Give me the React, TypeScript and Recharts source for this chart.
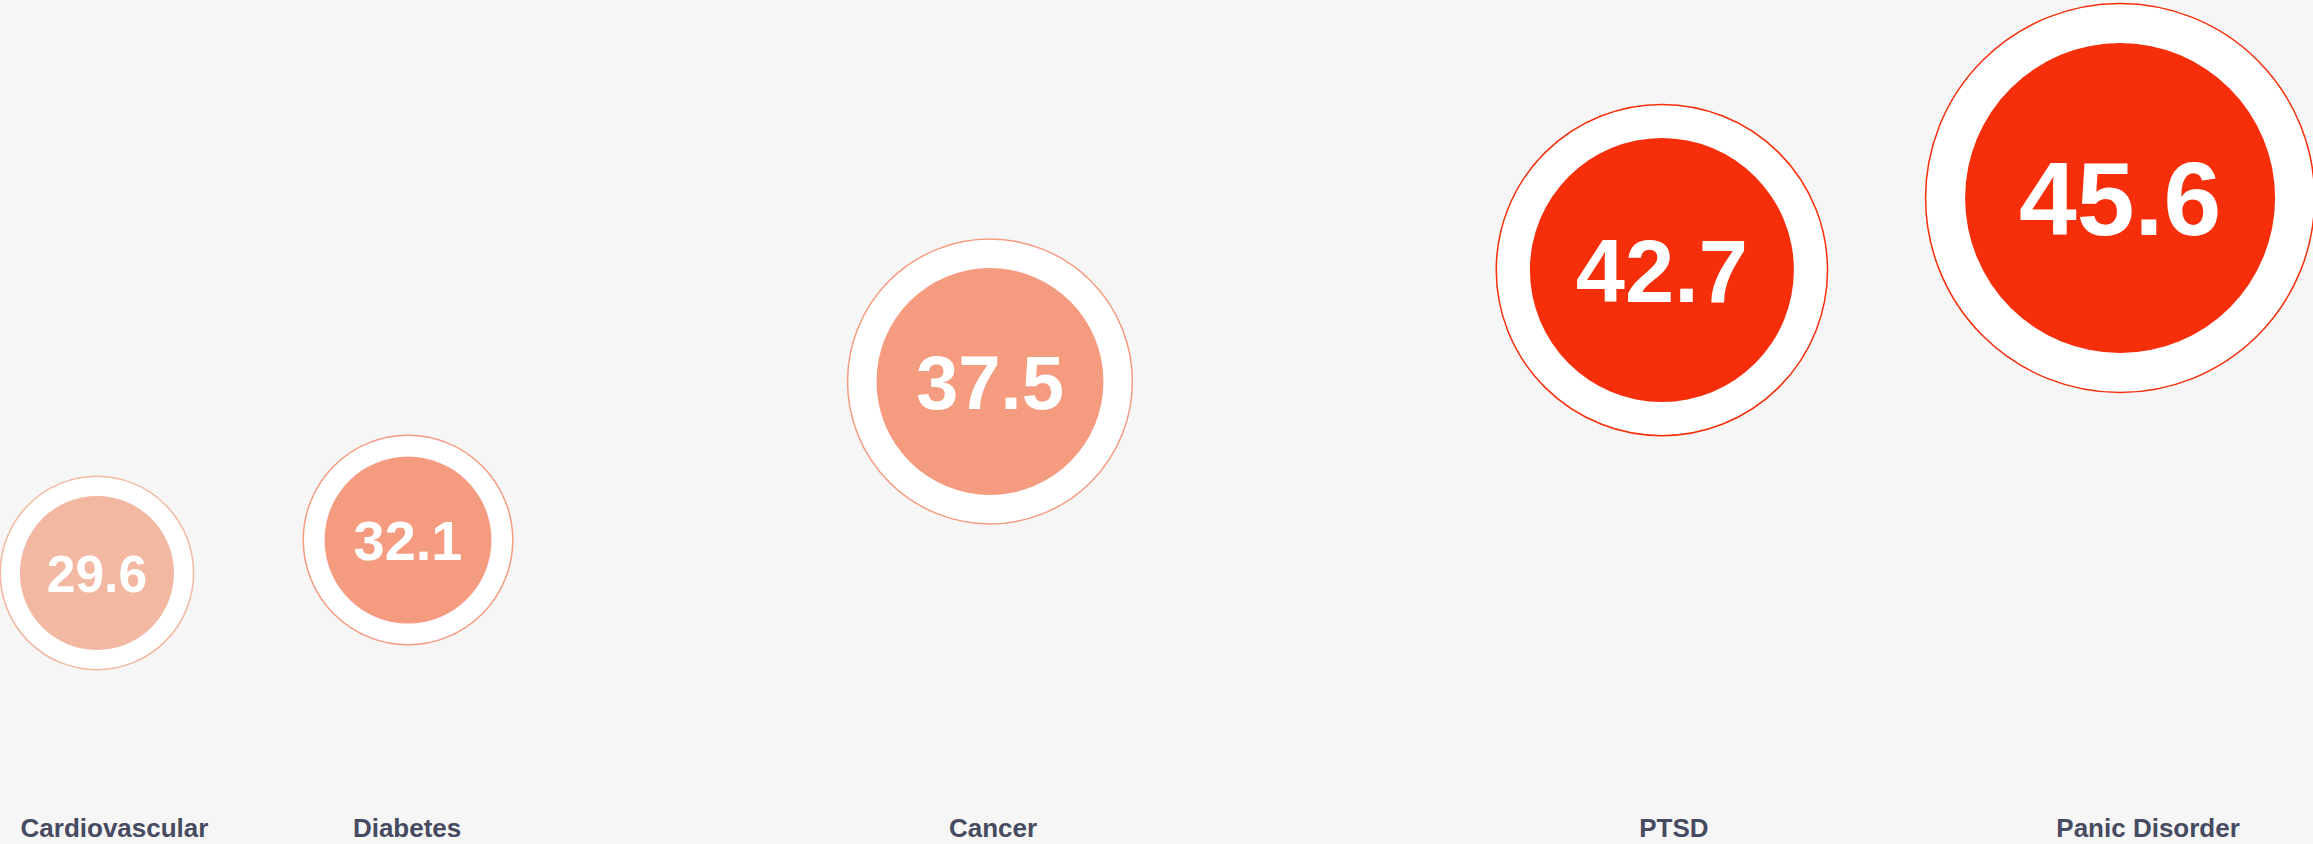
import { ScatterChart, Scatter, XAxis, YAxis, ZAxis } from 'recharts'

const categories = ['Cardiovascular', 'Diabetes', 'Cancer', 'PTSD', 'Panic Disorder']
const values = [29.6, 32.1, 37.5, 42.7, 45.6]
// layout, in % of the plot area
const xPos = [4.19, 17.64, 42.8, 71.85, 91.66]
const yPos = [26.91, 31.12, 51.34, 65.56, 74.74]
// relative bubble area (largest = 100)
const bubbleArea = [24.7, 29.0, 53.6, 72.5, 100]
// where the category names sit along the bottom
const labelPos = [4.95, 17.6, 42.93, 72.37, 92.87]

const W = 2313
const H = 844
const MAX_R = 155
const FONT = '"Liberation Sans", Arial, Helvetica, sans-serif'

function colorFor(v: number): string {
  if (v < 30) return '#f2b8a2'
  if (v < 40) return '#f59b80'
  return '#f72e0a'
}

const data = categories.map((name, i) => ({
  name,
  value: values[i],
  x: xPos[i],
  y: yPos[i],
  z: bubbleArea[i],
}))

function Bubble(props: any) {
  const { cx, cy, size, payload } = props
  if (cx == null || cy == null) return null
  const r = Math.sqrt(Math.max(size, 0) / Math.PI)
  const c = colorFor(payload.value)
  const fs = r * 0.67
  return (
    <g>
      <circle cx={cx} cy={cy} r={r * 1.255} fill="#ffffff" stroke={c} strokeWidth={1.5} />
      <circle cx={cx} cy={cy} r={r} fill={c} />
      <text
        x={cx}
        y={cy + fs * 0.358}
        textAnchor="middle"
        fill="#ffffff"
        fontFamily={FONT}
        fontWeight="bold"
        fontSize={fs}
      >
        {payload.value.toFixed(1)}
      </text>
    </g>
  )
}

function CategoryTick(props: any) {
  const { x, y, index } = props
  return (
    <text
      x={x}
      y={y + 53}
      textAnchor="middle"
      fill="#474b61"
      fontFamily={FONT}
      fontWeight="bold"
      fontSize={26}
    >
      {categories[index]}
    </text>
  )
}

export default function App() {
  return (
    <div style={{ width: W, height: H, background: '#f6f6f6' }}>
      <style>{'body{margin:0;background:#f6f6f6}'}</style>
      <ScatterChart width={W} height={H} margin={{ top: 0, right: 0, left: 0, bottom: 0 }}>
        <XAxis
          type="number"
          dataKey="x"
          domain={[0, 100]}
          ticks={labelPos}
          interval={0}
          height={60}
          axisLine={false}
          tickLine={false}
          tickSize={0}
          tickMargin={0}
          tick={<CategoryTick />}
        />
        <YAxis type="number" dataKey="y" domain={[0, 100]} hide />
        <ZAxis type="number" dataKey="z" domain={[0, 100]} range={[0, Math.PI * MAX_R * MAX_R]} />
        <Scatter data={data} shape={<Bubble />} isAnimationActive={false} />
      </ScatterChart>
    </div>
  )
}
